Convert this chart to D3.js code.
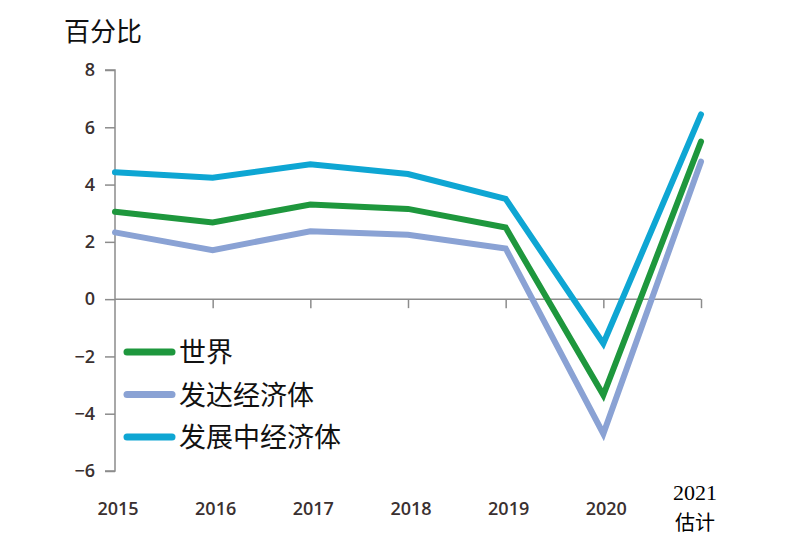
<!DOCTYPE html>
<html><head><meta charset="utf-8">
<script src="https://cdn.jsdelivr.net/npm/d3@7"></script>
<style>body{margin:0;background:#fff}</style>
</head><body>
<svg id="c" width="786" height="549"></svg>
<script>
const years = [2015, 2016, 2017, 2018, 2019, 2020, 2021];
const xLabels = ["2015", "2016", "2017", "2018", "2019", "2020", "2021"];
const world = [3.05, 2.68, 3.3, 3.15, 2.5, -3.35, 5.5];
const advanced = [2.33, 1.71, 2.37, 2.25, 1.77, -4.7, 4.8];
const developing = [4.43, 4.24, 4.71, 4.37, 3.5, -1.55, 6.45];
const yTicks = [8, 6, 4, 2, 0, -2, -4, -6];
const seriesNames = ["世界", "发达经济体", "发展中经济体"];
const colors = ["#1e973d", "#8aa2d4", "#0ea6d3"];

const svg = d3.select("#c");
const x = d3.scaleLinear().domain([2015, 2021]).range([115, 701]);
const y = d3.scaleLinear().domain([-6, 8]).range([471, 70]);
const axisColor = "#8c8c8c";

// y axis
const ya = svg.append("g").attr("transform", "translate(115,0)")
  .call(d3.axisLeft(y).tickValues(yTicks).tickSize(10).tickPadding(10).tickFormat(d3.format("d")));
ya.select(".domain").attr("stroke", axisColor).attr("stroke-width", 1.5).attr("d", `M-10,${y(8)}H0V${y(-6)}H-10`);
ya.selectAll(".tick line").attr("stroke", axisColor).attr("stroke-width", 1.5);
ya.selectAll(".tick text").attr("fill", "#3a3030").style("font-family", "'Open Sans', sans-serif").style("font-size", "18px").style("font-weight", "600");

// zero line with ticks pointing down
const xa = svg.append("g").attr("transform", `translate(0,${y(0)})`)
  .call(d3.axisBottom(x).tickValues(years.slice(1)).tickSize(9).tickFormat(""));
xa.select(".domain").attr("stroke", axisColor).attr("stroke-width", 1.5).attr("d", `M115,0H${x(2021)}`);
xa.selectAll(".tick line").attr("stroke", axisColor).attr("stroke-width", 1.5);

// x labels
svg.append("g").selectAll("text").data(years.slice(0, 6)).join("text")
  .attr("x", d => x(d) + 3).attr("y", 515).attr("text-anchor", "middle")
  .attr("fill", "#3a3030").style("font-family", "'Open Sans', sans-serif").style("font-size", "18px").style("font-weight", "600")
  .text((d, i) => xLabels[i]);
svg.append("text").attr("x", x(2021) - 6).attr("y", 500).attr("text-anchor", "middle")
  .style("font-family", "'Liberation Serif', serif").style("font-size", "22px").attr("fill", "#000").text(xLabels[6]);
svg.append("text").attr("x", x(2021) - 6).attr("y", 530).attr("text-anchor", "middle")
  .style("font-family", "'Noto Sans CJK SC', sans-serif").style("font-size", "20px").attr("fill", "#000").text("估计");

// title
svg.append("text").attr("x", 64).attr("y", 41)
  .style("font-family", "'Noto Sans CJK SC', sans-serif").style("font-size", "26px").attr("fill", "#111").text("百分比");

// lines
const line = d3.line().x((d, i) => x(years[i])).y(d => y(d));
const data = [world, advanced, developing];
const order = [1, 0, 2];
order.forEach(k => {
  svg.append("path").datum(data[k]).attr("d", line)
    .attr("fill", "none").attr("stroke", colors[k]).attr("stroke-width", 6)
    .attr("stroke-linejoin", "miter").attr("stroke-linecap", "round");
});

// legend
const lg = svg.append("g").selectAll("g").data(seriesNames).join("g")
  .attr("transform", (d, i) => `translate(0,${352 + i * 42.5})`);
lg.append("line").attr("x1", 127).attr("x2", 172).attr("y1", 0).attr("y2", 0)
  .attr("stroke", (d, i) => colors[i]).attr("stroke-width", 7).attr("stroke-linecap", "round");
lg.append("text").attr("x", 179).attr("y", 10)
  .style("font-family", "'Noto Sans CJK SC', sans-serif").style("font-size", "27px").attr("fill", "#111").text(d => d);
</script>
</body></html>
